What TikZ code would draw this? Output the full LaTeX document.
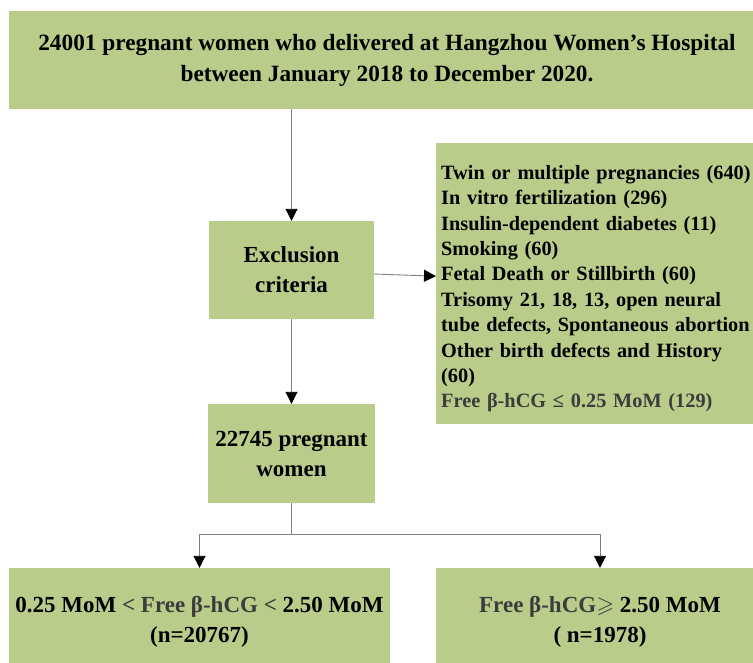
\documentclass[tikz,border=0pt]{standalone}
\usepackage{amssymb}
\usepackage{fontspec}
\setmainfont{Liberation Serif}
\usetikzlibrary{arrows.meta}
\definecolor{boxgreen}{RGB}{185,204,138}
\definecolor{darktext}{RGB}{60,60,60}
\tikzset{
  box/.style={fill=boxgreen, inner sep=0pt, align=center},
  link/.style={draw=gray, line width=0.9pt, -{Triangle[width=12pt,length=12pt,color=black]}}
}
\begin{document}
\begin{tikzpicture}[x=1pt, y=-1pt]
      \path[use as bounding box, clip] (0,0) rectangle (753,662);
      \node[box, minimum width=756pt, minimum height=98pt,
            font=\bfseries\fontsize{23.3}{31}\selectfont] (pop) at (387,60)
        {24001 pregnant women who delivered at Hangzhou Women’s Hospital\\
         between January 2018 to December 2020.};
      \node[box, minimum width=165pt, minimum height=98pt,
            font=\bfseries\fontsize{23}{30}\selectfont] (excl) at (291.5,270)
        {Exclusion\\criteria};
      \node[box, anchor=north west, minimum width=350pt, minimum height=281pt] (crit) at (436,143) {};
      \node[anchor=north west, align=left, inner sep=0pt, text width=330pt,
            font=\bfseries\fontsize{20.3}{25.4}\selectfont] (critlist)
            at ([xshift=5pt, yshift=-22pt]crit.north west)
        {Twin or multiple pregnancies (640)\\
         In vitro fertilization (296)\\
         Insulin-dependent diabetes (11)\\
         Smoking (60)\\
         Fetal Death or Stillbirth (60)\\
         Trisomy 21, 18, 13, open neural\\
         tube defects, Spontaneous abortion\\
         Other birth defects and History\\
         (60)\\
         \textcolor{darktext}{Free β-hCG ≤ 0.25 MoM (129)}};
      \node[box, minimum width=167pt, minimum height=99pt,
            font=\bfseries\fontsize{23}{30}\selectfont] (women) at (291.5,453.5)
        {22745 pregnant\\women};
      \node[box, minimum width=381pt, minimum height=108pt,
            font=\bfseries\fontsize{23}{30}\selectfont] (low) at (199.5,622)
        {0.25 MoM \textcolor{darktext}{< Free β-hCG <} 2.50 MoM\\(n=20767)};
      \node[box, minimum width=328pt, minimum height=108pt,
            font=\bfseries\fontsize{23}{30}\selectfont] (high) at (600,622)
        {\textcolor{darktext}{Free β-hCG\ensuremath{\geqslant}} 2.50 MoM\\( n=1978)};
      \path (women.south) ++(0,31) coordinate (split);
      \begin{scope}[link]
        \draw (excl.north |- pop.south) to (excl.north);
        \draw (excl) to (women);
        \draw ([yshift=-4pt]excl.east) to ([yshift=7.5pt]crit.west);
        \draw[-] (women) to (split);
        \draw (split) -| (low.north);
        \draw (split) -| (high.north);
      \end{scope}
    \end{tikzpicture}
\end{document}
